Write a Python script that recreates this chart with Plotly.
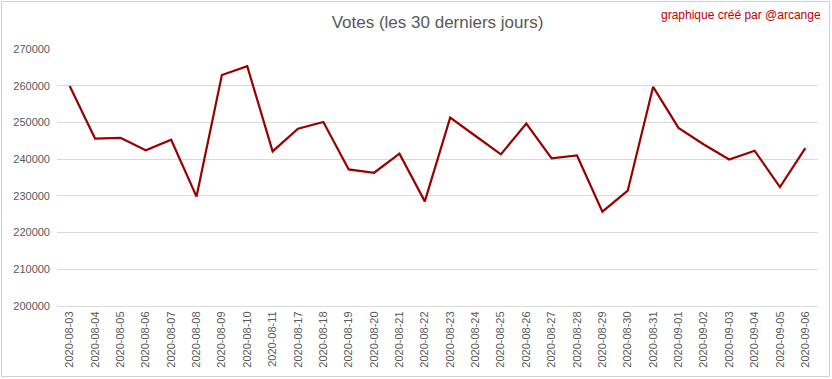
import plotly.graph_objects as go

dates = ["2020-08-03", "2020-08-04", "2020-08-05", "2020-08-06", "2020-08-07",
         "2020-08-08", "2020-08-09", "2020-08-10", "2020-08-11", "2020-08-17",
         "2020-08-18", "2020-08-19", "2020-08-20", "2020-08-21", "2020-08-22",
         "2020-08-23", "2020-08-24", "2020-08-25", "2020-08-26", "2020-08-27",
         "2020-08-28", "2020-08-29", "2020-08-30", "2020-08-31", "2020-09-01",
         "2020-09-02", "2020-09-03", "2020-09-04", "2020-09-05", "2020-09-06"]
votes = [259900, 245600, 245800, 242400, 245300,
         229800, 262900, 265300, 242100, 248300,
         250100, 237200, 236300, 241500, 228500,
         251300, 246300, 241300, 249700, 240200,
         241000, 225700, 231400, 259700, 248500,
         244000, 239900, 242300, 232400, 243000]
y_ticks = [200000, 210000, 220000, 230000, 240000, 250000, 260000, 270000]

W, H = 832, 379
L, R, T, B = 57, 14, 49, 73

fig = go.Figure(go.Scatter(
    x=dates, y=votes, mode="lines",
    line=dict(color="#990000", width=2.2),
    hoverinfo="x+y",
))

fig.update_layout(
    width=W, height=H,
    margin=dict(l=L, r=R, t=T, b=B, autoexpand=False),
    paper_bgcolor="white", plot_bgcolor="white",
    font=dict(family="Liberation Sans, Arial, sans-serif", color="#595959"),
    title=dict(text="Votes (les 30 derniers jours)", x=0.5, xanchor="center",
               xref="paper",
               y=1 - 22 / H, yanchor="middle",
               font=dict(size=17, color="#595959")),
    showlegend=False,
    xaxis=dict(type="category", tickangle=-90, tickfont=dict(size=11, color="#595959"),
               range=[-0.5, len(dates) - 0.5], automargin=False,
               showgrid=False, showline=True, linecolor="#d9d9d9", linewidth=1,
               ticks="", ticklen=0),
    yaxis=dict(range=[200000, 270000], tickvals=y_ticks, tickformat="d",
               automargin=False,
               tickfont=dict(size=11, color="#595959"),
               showgrid=True, gridcolor="#d9d9d9", gridwidth=1,
               zeroline=False, showline=False, ticks="", ticklabelstandoff=6),
    annotations=[dict(text="graphique créé par @arcange", xref="paper", yref="paper",
                      x=(W - 9 - L) / (W - L - R), y=1 + (T - 15) / (H - T - B),
                      xanchor="right", yanchor="middle", showarrow=False,
                      font=dict(size=12, color="#C00000"))],
    shapes=[dict(type="rect", xref="paper", yref="paper",
                 x0=(1.5 - L) / (W - L - R), x1=(W - 2.5 - L) / (W - L - R),
                 y0=-(B - 2.5) / (H - T - B), y1=1 + (T - 1.5) / (H - T - B),
                 line=dict(color="#d0d0d0", width=1), layer="above")],
)

fig.write_html("out.html", config={"displayModeBar": False},
               post_script="document.body.style.margin='0';document.body.style.overflow='hidden';")
